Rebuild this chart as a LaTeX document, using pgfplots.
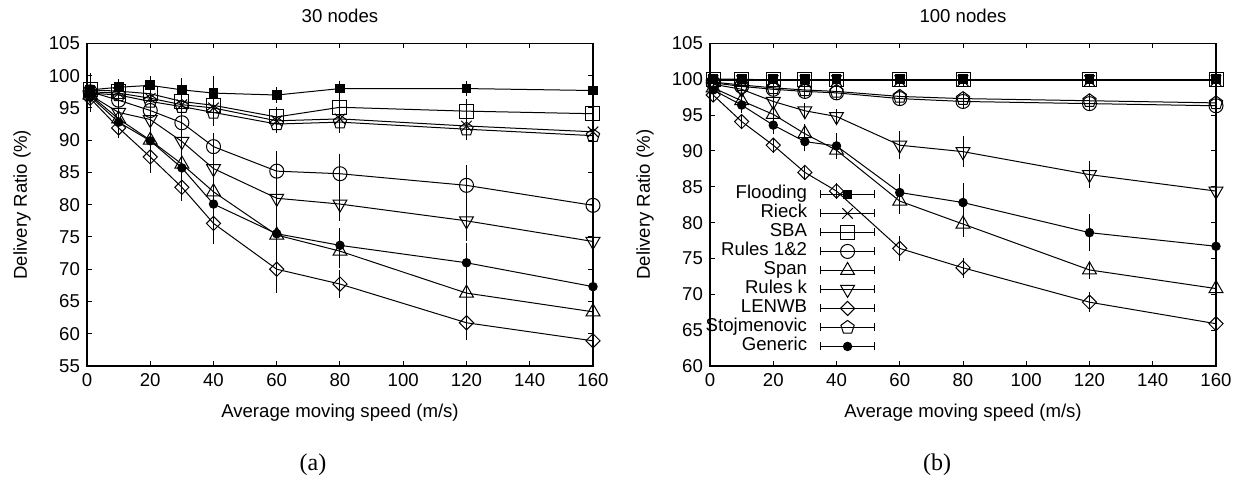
\documentclass[border=0pt]{standalone}
\usepackage{pgfplots}
\pgfplotsset{compat=1.18}
\usepackage{fontspec}
\setmainfont{Liberation Sans}
\newfontfamily\serifcap{Liberation Serif}

\pgfplotsset{
  myaxis/.style={
    scale only axis,
    width=253pt, height=161.3pt,
    xmin=0, xmax=160,
    xtick={0,20,...,160},
    ytick distance=5,
    tick align=inside,
    major tick length=2.5pt,
    axis line style={line width=0.6pt},
    every tick/.style={line width=0.5pt, black},
    tick label style={font=\fontsize{9.3pt}{10.5pt}\selectfont},
    /pgf/number format/assume math mode=true,
    label style={font=\fontsize{9.3pt}{10.5pt}\selectfont},
    every axis title shift=0pt,
    title style={font=\fontsize{9.3pt}{10.5pt}\selectfont, at={(axis description cs:0.5,1.0849)}, anchor=center},
    xlabel style={at={(axis description cs:0.5,-0.1457)}, anchor=center},
    ylabel style={at={(axis description cs:-0.1285,0.5)}, anchor=center},
    xlabel={Average moving speed (m/s)},
    ylabel={Delivery Ratio (\%)},
    every axis plot/.append style={black, solid, line width=0.5pt},
    error bars/y dir=both,
    error bars/y explicit,
    error bars/error mark options={mark size=2pt, line width=0.5pt, black, solid},
    error bars/error bar style={line width=0.5pt, black, solid},
  },
  sFlood/.style={mark=square*, mark size=2.2pt},
  sRieck/.style={mark=x, mark size=3.7pt},
  sSBA/.style={mark=square, mark size=3.5pt},
  sR12/.style={mark=o, mark size=3.5pt},
  sSpan/.style={mark=triangle, mark size=4pt},
  sRk/.style={mark=triangle, mark size=4pt, mark options={rotate=180}},
  sLEN/.style={mark=square, mark size=2.5pt, mark options={rotate=45}},
  sStoj/.style={mark=pentagon, mark size=3.5pt},
  sGen/.style={mark=*, mark size=2.1pt},
}

\begin{document}
\begin{tikzpicture}
\useasboundingbox (-43.5pt,-57.5pt) rectangle (576pt,183pt);
% ---------------- (a) 30 nodes ----------------
\begin{axis}[myaxis, at={(0pt,0pt)}, anchor=south west,
  ymin=55, ymax=105, title={30 nodes}]
\addplot[sFlood] table[y error=e] {
x y e
1 97.8 2.0
10 98.2 0.6
20 98.5 0.8
30 97.8 1.2
40 97.3 2.1
60 97.0 0.6
80 98.0 0.6
120 98.0 0.5
160 97.7 0.6
};
\addplot[sRieck] table[y error=e] {
x y e
1 97.5 1.5
10 97.3 0.8
20 96.5 1.0
30 95.5 1.2
40 95.0 1.5
60 93.0 1.0
80 93.3 1.0
120 92.2 1.0
160 91.3 1.0
};
\addplot[sSBA] table[y error=e] {
x y e
1 97.8 1.5
10 97.6 0.8
20 97.2 1.0
30 96.0 1.2
40 95.4 1.5
60 93.6 1.0
80 95.1 1.2
120 94.5 1.3
160 94.1 1.2
};
\addplot[sR12] table[y error=e] {
x y e
1 97.5 1.5
10 96.2 1.0
20 94.6 1.2
30 92.7 1.5
40 89.0 1.5
60 85.2 2.5
80 84.8 2.5
120 83.0 2.5
160 79.9 2.5
};
\addplot[sSpan] table[y error=e] {
x y e
1 97.0 1.5
10 93.3 1.0
20 90.0 1.5
30 86.3 1.5
40 82.0 2.0
60 75.3 2.0
80 72.8 2.0
120 66.3 2.0
160 63.4 2.0
};
\addplot[sRk] table[y error=e] {
x y e
1 97.0 1.5
10 94.3 1.2
20 93.2 1.5
30 89.8 1.5
40 85.6 2.0
60 81.0 2.0
80 80.1 2.0
120 77.5 2.5
160 74.3 2.0
};
\addplot[sLEN] table[y error=e] {
x y e
1 96.5 1.5
10 91.9 1.0
20 87.4 1.8
30 82.7 1.5
40 77.1 2.5
60 70.0 3.0
80 67.7 1.5
120 61.7 2.0
160 58.9 1.5
};
\addplot[sStoj] table[y error=e] {
x y e
1 97.3 1.5
10 97.0 0.8
20 96.0 1.0
30 95.2 1.2
40 94.3 1.5
60 92.5 0.8
80 92.8 1.0
120 91.7 1.0
160 90.7 0.8
};
\addplot[sGen] table[y error=e] {
x y e
1 96.8 1.5
10 92.8 1.0
20 89.9 1.5
30 85.7 1.5
40 80.1 2.0
60 75.5 2.5
80 73.7 2.0
120 71.0 2.5
160 67.3 2.0
};
\end{axis}
% ---------------- (b) 100 nodes ----------------
\begin{axis}[myaxis, at={(311.5pt,0pt)}, anchor=south west,
  ymin=60, ymax=105, title={100 nodes},
  legend plot pos=right,
  legend cell align=right,
  legend image code/.code={%
    \draw[mark repeat=2,mark phase=2] plot coordinates {(0pt,0pt)(13.5pt,0pt)(27pt,0pt)};
    \draw[solid] (0pt,-2pt)--(0pt,2pt) (27pt,-2pt)--(27pt,2pt);},
  legend style={at={(axis description cs:0.327,0.5625)}, anchor=north east,
    draw=none, fill=none, inner sep=0pt, row sep=0pt, column sep=6.5pt,
    font=\fontsize{9.3pt}{10.5pt}\selectfont,
    nodes={inner sep=0pt, text height=6.9pt, text depth=2.6pt}},
]
\addplot[sFlood] table[y error=e] {
x y e
1 100.0 0.2
10 100.0 0.2
20 100.0 0.2
30 100.0 0.2
40 100.0 0.2
60 100.0 0.2
80 100.0 0.2
120 100.0 0.2
160 100.0 0.2
};
\addplot[sRieck] table[y error=e] {
x y e
1 99.8 0.2
10 99.8 0.2
20 99.8 0.2
30 99.8 0.2
40 99.8 0.2
60 99.8 0.2
80 99.8 0.2
120 99.8 0.2
160 99.8 0.2
};
\addplot[sSBA] table[y error=e] {
x y e
1 100.0 0.2
10 100.0 0.2
20 99.9 0.2
30 99.9 0.2
40 99.9 0.2
60 99.9 0.2
80 99.9 0.2
120 99.9 0.2
160 99.9 0.2
};
\addplot[sR12] table[y error=e] {
x y e
1 99.5 0.4
10 99.0 0.4
20 98.6 0.4
30 98.3 0.4
40 98.1 0.4
60 97.3 0.4
80 96.9 0.4
120 96.6 0.4
160 96.3 0.4
};
\addplot[sSpan] table[y error=e] {
x y e
1 98.8 0.4
10 97.0 0.5
20 95.1 0.8
30 92.4 0.8
40 90.1 0.6
60 83.0 1.2
80 79.8 1.2
120 73.4 0.7
160 70.8 0.6
};
\addplot[sRk] table[y error=e] {
x y e
1 99.3 0.3
10 98.6 0.5
20 96.9 0.6
30 95.6 0.5
40 94.8 0.5
60 90.8 1.4
80 89.9 1.6
120 86.7 1.3
160 84.4 2.0
};
\addplot[sLEN] table[y error=e] {
x y e
1 97.8 0.3
10 94.1 0.4
20 90.8 0.5
30 87.0 0.5
40 84.4 0.6
60 76.4 1.2
80 73.7 0.8
120 68.9 0.8
160 65.9 0.7
};
\addplot[sStoj] table[y error=e] {
x y e
1 99.6 0.4
10 99.2 0.4
20 98.8 0.4
30 98.5 0.4
40 98.3 0.4
60 97.6 0.4
80 97.3 0.4
120 97.0 0.4
160 96.7 0.4
};
\addplot[sGen] table[y error=e] {
x y e
1 98.5 0.5
10 96.4 0.5
20 93.6 0.7
30 91.3 0.8
40 90.7 1.2
60 84.2 2.0
80 82.8 2.2
120 78.6 2.0
160 76.7 2.5
};
\legend{Flooding,Rieck,SBA,Rules 1\&2,Span,Rules k,LENWB,Stojmenovic,Generic}
\end{axis}
\node[font=\serifcap\fontsize{12pt}{13pt}\selectfont] at (113pt,-49.5pt) {(a)};
\node[font=\serifcap\fontsize{12pt}{13pt}\selectfont] at (425pt,-49.5pt) {(b)};
\end{tikzpicture}
\end{document}
